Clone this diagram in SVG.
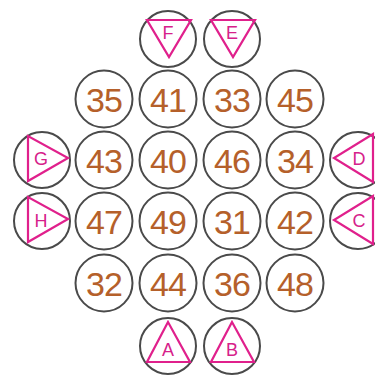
<svg xmlns="http://www.w3.org/2000/svg" width="375" height="380" viewBox="0 0 375 380">
<style>
.c{fill:#fff;stroke:#4a4a4a;stroke-width:2}
.n{font-family:"Liberation Sans",Arial,sans-serif;font-size:34px;letter-spacing:-1px;fill:#b5602a;text-anchor:middle;dominant-baseline:central}
.t{fill:none;stroke:#e0208c;stroke-width:2.2;stroke-linejoin:miter}
.l{font-family:"Liberation Sans",Arial,sans-serif;font-size:18px;fill:#d6218a;text-anchor:middle;dominant-baseline:central}
</style>
<rect width="375" height="380" fill="#fff"/>
<g id="connectors"/>
<g id="F"><circle class="c" cx="168" cy="39" r="28"/><polygon class="t" points="147,20 191,20 169,57"/><text class="l" x="168" y="33">F</text></g>
<g id="E"><circle class="c" cx="232" cy="39" r="28"/><polygon class="t" points="211,20 255,20 233,57"/><text class="l" x="232" y="33">E</text></g>

<g id="n35"><circle class="c" cx="104" cy="99" r="28.5"/><text class="n" x="104" y="100">35</text></g>
<g id="n41"><circle class="c" cx="168" cy="99" r="28.5"/><text class="n" x="168" y="100">41</text></g>
<g id="n33"><circle class="c" cx="232" cy="99" r="28.5"/><text class="n" x="232" y="100">33</text></g>
<g id="n45"><circle class="c" cx="295" cy="99" r="28.5"/><text class="n" x="295" y="100">45</text></g>

<g id="G"><circle class="c" cx="42" cy="160" r="28"/><polygon class="t" points="28,136 28,181 68,158"/><text class="l" x="41" y="159">G</text></g>
<g id="n43"><circle class="c" cx="104" cy="160" r="28.5"/><text class="n" x="104" y="161">43</text></g>
<g id="n40"><circle class="c" cx="168" cy="160" r="28.5"/><text class="n" x="168" y="161">40</text></g>
<g id="n46"><circle class="c" cx="232" cy="160" r="28.5"/><text class="n" x="232" y="161">46</text></g>
<g id="n34"><circle class="c" cx="295" cy="160" r="28.5"/><text class="n" x="295" y="161">34</text></g>
<g id="D"><circle class="c" cx="358" cy="160" r="28"/><polygon class="t" points="373,134 373,182 334,158"/><text class="l" x="359" y="159">D</text></g>

<g id="H"><circle class="c" cx="42" cy="221" r="28"/><polygon class="t" points="28,197 28,242 68,219"/><text class="l" x="41" y="221">H</text></g>
<g id="n47"><circle class="c" cx="104" cy="221" r="28.5"/><text class="n" x="104" y="222">47</text></g>
<g id="n49"><circle class="c" cx="168" cy="221" r="28.5"/><text class="n" x="168" y="222">49</text></g>
<g id="n31"><circle class="c" cx="232" cy="221" r="28.5"/><text class="n" x="232" y="222">31</text></g>
<g id="n42"><circle class="c" cx="295" cy="221" r="28.5"/><text class="n" x="295" y="222">42</text></g>
<g id="C"><circle class="c" cx="358" cy="221" r="28"/><polygon class="t" points="373,196 373,244 334,220"/><text class="l" x="359" y="221">C</text></g>

<g id="n32"><circle class="c" cx="104" cy="283" r="28.5"/><text class="n" x="104" y="284">32</text></g>
<g id="n44"><circle class="c" cx="168" cy="283" r="28.5"/><text class="n" x="168" y="284">44</text></g>
<g id="n36"><circle class="c" cx="232" cy="283" r="28.5"/><text class="n" x="232" y="284">36</text></g>
<g id="n48"><circle class="c" cx="295" cy="283" r="28.5"/><text class="n" x="295" y="284">48</text></g>

<g id="A"><circle class="c" cx="168" cy="346" r="28"/><polygon class="t" points="168,322 147,362 190,362"/><text class="l" x="168" y="350">A</text></g>
<g id="B"><circle class="c" cx="232" cy="346" r="28"/><polygon class="t" points="232,322 211,362 254,362"/><text class="l" x="232" y="350">B</text></g>
</svg>
